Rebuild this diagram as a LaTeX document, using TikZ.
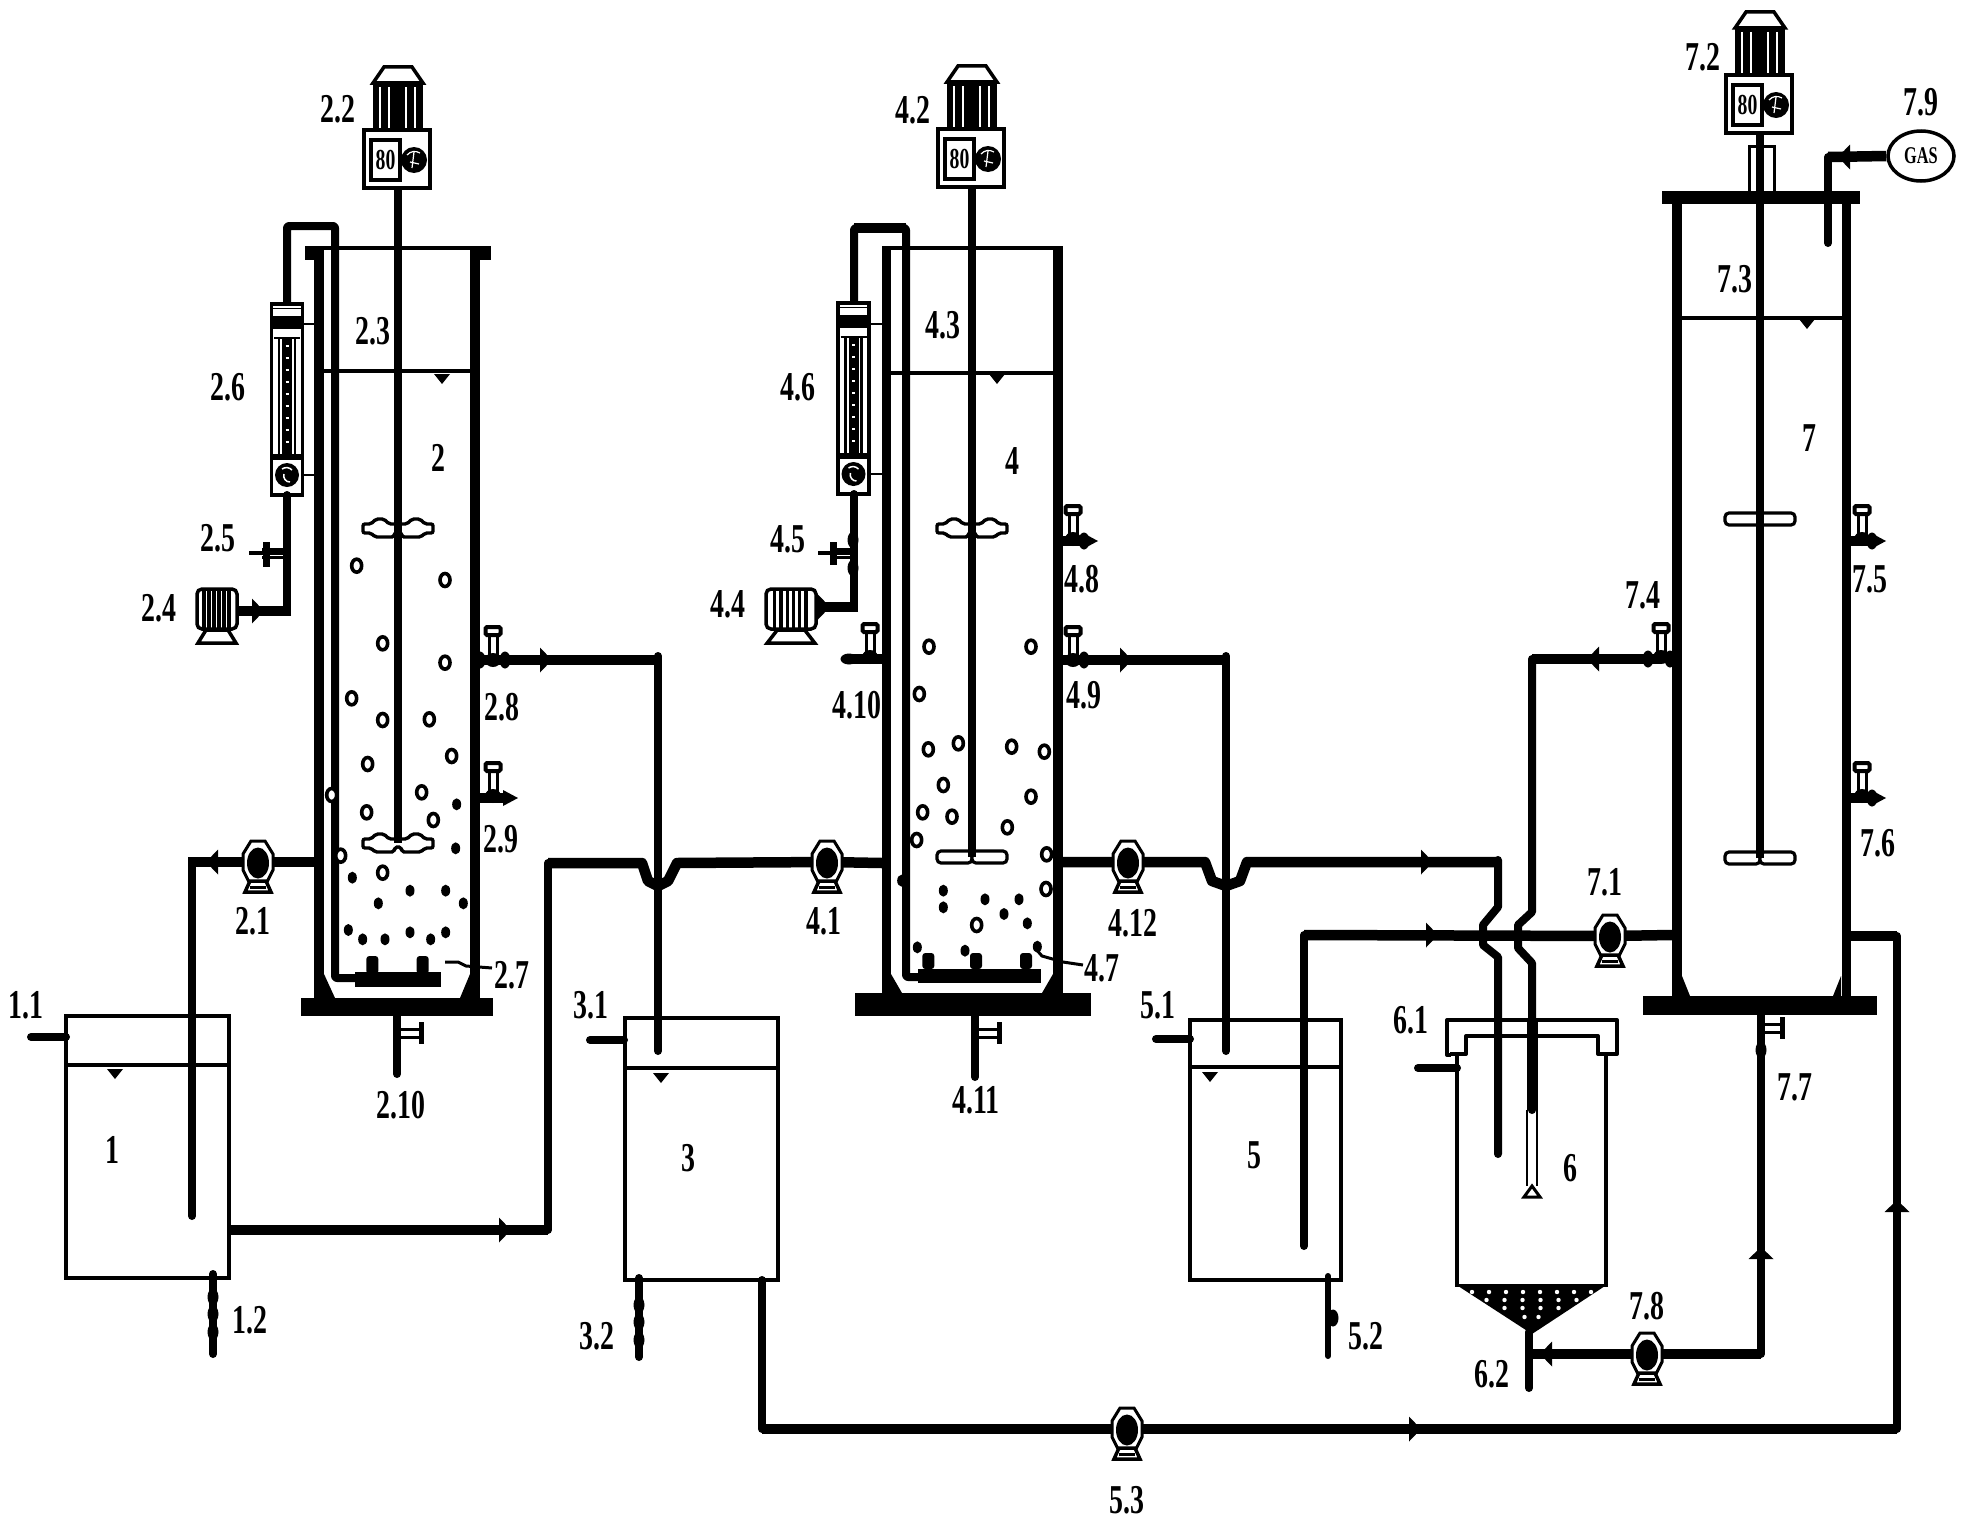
\documentclass[tikz,border=0pt]{standalone}
\usepackage{fontspec}
\setmainfont{Liberation Serif}[FakeStretch=0.68]
\usetikzlibrary{shapes.geometric,calc}
\tikzset{
  pipe/.style={line width=8,line join=round,line cap=round},
  thickpipe/.style={line width=10.5,line join=round},
  thinline/.style={line width=2.5},
  wall/.style={line width=9.5},
  levelline/.style={line width=4.5},
  tankbox/.style={draw,line width=4,minimum width=#1,anchor=north west,inner sep=0,outer sep=0},
  lbl/.style={inner sep=0,font=\fontsize{41}{41}\selectfont\bfseries},
  bub/.style={line width=3.6,draw=black,fill=white},
  pump/.pic={
    \draw[line width=3,fill=white] (-7,-21)--(7,-21)--(15,-8)--(15,8)--(9,20)--(-9,20)--(-15,8)--(-15,-8)--cycle;
    \fill (0,1) ellipse[x radius=11,y radius=15.5];
    \draw[line width=3.5,fill=white] (-8,19)--(-13,30)--(13,30)--(8,19)--cycle;
    \draw[line width=3] (-8,25)--(8,25);
  },
  blower/.pic={
    \draw[line width=3.5,fill=white,rounded corners=5] (-20,-22) rectangle (20,18);
    \foreach \a in {-13,-8,-3,2,7,12} \draw[line width=3.2] (\a,-21)--(\a,17);
    \draw[line width=3.5,fill=white] (-11,19)--(-19,32)--(19,32)--(11,19)--cycle;
  },
  stirmotor/.pic={
    \draw[line width=3.5,fill=white] (-25,-47)--(-14,-63)--(14,-63)--(25,-47)--cycle;
    \fill (-25,-47) rectangle (25,0);
    \foreach \a/\w in {-18/1.5,-9/1.5,8/1.5,17/1.5} \draw[white,line width=\w] (\a,-43)--(\a,-2);
    \draw[line width=4.5,fill=white] (-34,0) rectangle (32,58);
    \draw[line width=4.5] (-27,10) rectangle (2,50);
    \node[font=\fontsize{29}{29}\selectfont\bfseries,inner sep=0] at (-12.5,30) {80};
    \fill (16,30) circle[radius=13];
    \draw[white,line width=1.2] (9,25) to[bend left=40] (22,23) (16,22)--(14,38) (12,32)--(21,34);
  },
  impeller/.pic={
    \draw[line width=3.2,fill=white,rounded corners=4] (-35,-6) rectangle (0,6);
    \draw[line width=3.2,fill=white,rounded corners=4] (0,-6) rectangle (35,6);
  },
  bumpimp/.pic={
    \draw[line width=3.4,fill=white,rounded corners=2] (-35,-4)--(-27,-4)--(-22,-9)--(-14,-9)--(-9,-4)--(9,-4)--(14,-9)--(22,-9)--(27,-4)--(35,-4)--(35,5)--(27,5)--(23,9)--(4,9)--(3,4)--(-3,4)--(-4,9)--(-23,9)--(-27,5)--(-35,5)--cycle;
  },
  flowmeter/.pic={
    \draw[line width=3.5,fill=white] (-15.5,0) rectangle (15.5,191);
    \fill (-14,12) rectangle (14,23);
    \fill (-14,4) rectangle (14,5);
    \fill (-14,23) rectangle (14,25);
    \draw[line width=2] (-13,34)--(13,34);
    \fill (-5,34) rectangle (5,150);
    \foreach \b in {42,54,...,146} \draw[white,line width=1.3] (-1.5,\b)--(1.5,\b);
    \draw[line width=2.5] (-8,34)--(-8,150) (8,34)--(8,150);
    \fill (-14,150) rectangle (14,156);
    \fill (0,171) circle[radius=12];
    \draw[white,line width=1.5] (-5,165) to[bend left=40] (5,166) (-3,170) to[bend right=60] (3,178);
  },
  tvalve/.pic={
    \draw[line width=3] (-4,-26)--(-4,-3) (4,-26)--(4,-3);
    \draw[line width=4,fill=white,rounded corners=1.5] (-7.5,-33) rectangle (7.5,-25);
    \fill (0,0) ellipse[x radius=8,y radius=7];
  },
  blob/.pic={\fill (0,0) ellipse[x radius=5.5,y radius=8.5];},
  hblob/.pic={\fill (0,0) ellipse[x radius=8.5,y radius=5.5];},
  flowmark/.pic={\fill (-5,-12.5)--(7,0)--(-5,12.5)--cycle;},
  tipmark/.pic={\fill (-13,-8)--(2,0)--(-13,8)--cycle;},
  levelmark/.pic={\fill (-8,-1)--(8,-1)--(0,9)--cycle;},
  sidehandle/.pic={
    \draw[line width=3] (0,-4)--(20,-4) (0,4)--(20,4);
    \draw[line width=5] (21,-11)--(21,11);
  },
}
\begin{document}
\begin{tikzpicture}[x=1pt,y=-1pt]
\path[use as bounding box,fill=white] (0,0) rectangle (1965,1520);

% ---- tanks
\node[tankbox=163,minimum height=262] (t1) at (66,1016) {};
\node[tankbox=153,minimum height=262] (t3) at (624.5,1018) {};
\node[tankbox=151,minimum height=260] (t5) at (1190,1020) {};
\draw[levelline] (t1.north west |- 66,1065)--(229,1065);
\draw[levelline] (624.5,1068)--(777.5,1068);
\draw[levelline] (1190,1067)--(1341,1067);
\pic at (115,1070) {levelmark};
\pic at (661,1074) {levelmark};
\pic at (1210,1073) {levelmark};

% ---- named pipe points
\coordinate (pu21) at (258,862);
\coordinate (pu41) at (827,862);
\coordinate (pu412) at (1128,862);
\coordinate (pu71) at (1610,936);
\coordinate (pu78) at (1647,1354);
\coordinate (pu53) at (1127,1429);

% pipes: tank 1 to reactor 2 through pump 2.1
\draw[pipe] (192,1216)--(192,862);
\draw[thickpipe] (188,862)--(pu21)--(314,862);
% tank 1 to reactor 4
\draw[thickpipe] (229,1230)--(548,1230);
\draw[pipe] (548,1230)--(548,863);
\draw[thickpipe] (548,863)--(642,863)--(648,881)--(658,886)--(668,881)--(677,863)--(pu41)--(882,863);
\draw[thickpipe] (1063,862)--(pu412)--(1205,862)--(1212,881)--(1226,886)--(1240,881)--(1247,862)--(1498,862);
% 2.8 to tank 3
\draw[thickpipe] (480,660)--(658,660);
\draw[pipe] (658,656)--(658,1051);
% 4.9 to tank 5
\draw[thickpipe] (1063,660)--(1226,660);
\draw[pipe] (1226,656)--(1226,1051);
% to clarifier with hops
\draw[pipe] (1498,860)--(1498,907)--(1483,925)--(1483,945)--(1498,957)--(1498,1154);
\draw[pipe] (1672,659)--(1532,659)--(1532,912)--(1518,925)--(1518,948)--(1532,963)--(1532,1110);
\draw[thickpipe] (1661,659)--(1532,659);
\draw[line width=11] (1532,1020)--(1532,1110);
\draw[thinline] (1527,1110)--(1527,1186) (1537,1110)--(1537,1186);
\draw[line width=3] (1532,1186)--(1524,1197)--(1540,1197)--cycle;
% tank 5 to reactor 7
\draw[pipe] (1304,1246)--(1304,935);
\draw[thickpipe] (1304,935)--(pu71)--(1672,935);
% 7 to bottom line
\draw[thickpipe] (1851,936)--(1897,936);
\draw[pipe] (1897,936)--(1897,1429);
\draw[thickpipe] (1897,1429)--(pu53)--(762,1429);
\draw[pipe] (762,1429)--(762,1280);
% recycle from clarifier
\draw[pipe] (1529,1332)--(1529,1388);
\draw[thickpipe] (1529,1354)--(pu78)--(1761,1354);
\draw[pipe] (1761,1354)--(1761,1015);
% inlet stubs
\draw[pipe] (31,1037)--(66,1037);
\draw[pipe] (590,1040)--(624,1040);
\draw[pipe] (1156,1039)--(1190,1039);
\draw[pipe] (1418,1068)--(1457,1068);
% bottom drains
\draw[pipe] (213,1274)--(213,1354);
\draw[pipe] (639,1278)--(639,1357);
\draw[line width=6,line cap=round] (1328,1276)--(1328,1356);
\foreach \b in {1297,1314,1332} \pic at (213,\b) {blob};
\foreach \b in {1305,1322,1340} \pic at (639,\b) {blob};
\pic at (1333,1318) {blob};

% ---- reactor 2
\draw[wall] (319,246)--(319,1002);
\draw[wall] (475,246)--(475,1002);
\fill (305,246) rectangle (491,250);
\fill (305,246) rectangle (324,260);
\fill (470,246) rectangle (491,260);
\fill (301,998) rectangle (493,1016);
\fill (324,974)--(335,998)--(324,998)--cycle;
\fill (470,974)--(460,998)--(470,998)--cycle;
\draw[levelline] (323,371)--(471,371);
\pic at (442,375) {levelmark};
\draw[pipe,rounded corners=2] (287,304)--(287,226)--(335,226)--(335,978)--(355,978);
\fill (355,972) rectangle (441,987);
\pic at (398,528) {bumpimp};
\pic at (398,843) {bumpimp};
\draw[line width=8] (398,188)--(398,843);
\pic at (398,130) {stirmotor};
\pic at (287,304) {flowmeter};
\draw[thinline] (302,324)--(314,324) (302,475)--(314,475);
\draw[pipe] (287,495)--(287,611);
\draw[thickpipe] (291,611)--(237,611);
\draw[line width=8] (287,532)--(287,574);
\draw[line width=4] (249,553)--(284,553);
\draw[line width=3] (262,549)--(284,549) (262,557)--(284,557);
\draw[line width=7] (266,542)--(266,567);
\pic at (217,611) {blower};
\pic at (257,611) {flowmark};
\pic at (258,862) {pump};
\pic[rotate=180] at (213,862) {flowmark};
\pic at (504,1230) {flowmark};
\pic at (545,660) {flowmark};
\pic at (505,660) {blob};
\pic at (493,660) {tvalve};
\pic at (480,660) {blob};
\draw[thickpipe] (480,798)--(504,798);
\pic at (516,798) {tipmark};
\pic at (493,796) {tvalve};
\draw[pipe] (397,1016)--(397,1074);
\pic at (400,1033) {sidehandle};
\foreach \a/\b in {170/197,435/240,248/430,435/488,155/595,248/660,388/658,455/768,203/792,95/885,365/877,200/937,400/960,248/1118,122/1067}
  \draw[bub] ({300+\a/3},{500+\b/3}) ellipse[x radius=5,y radius=6.5];
\foreach \a/\b in {470/913,467/1045,157/1133,330/1172,437/1172,235/1210,490/1210,145/1290,188/1318,255/1318,330/1297,392/1318,437/1297}
  \fill ({300+\a/3},{500+\b/3}) ellipse[x radius=4.5,y radius=6];
\foreach \a in {217,368} \fill[rounded corners=3] ({300+\a/3-6},956) rectangle ({300+\a/3+6},974);
\draw[line width=3] (445,962)--(458,962)--(466,966)--(492,968);

% ---- reactor 4
\draw[wall] (886.5,246)--(886.5,996);
\draw[wall] (1058,246)--(1058,996);
\fill (882,246) rectangle (1063,250);
\fill (855,993) rectangle (1091,1016);
\fill (891,974)--(902,993)--(891,993)--cycle;
\fill (1053,974)--(1042,993)--(1053,993)--cycle;
\draw[levelline] (891,373)--(1053,373);
\pic at (997,375) {levelmark};
\draw[pipe,rounded corners=2] (854,303)--(854,228)--(906,228)--(906,977)--(918,977);
\draw[line width=10] (854,228)--(906,228);
\fill (918,969) rectangle (1041,983);
\pic at (972,528) {bumpimp};
\pic at (972,857) {impeller};
\draw[line width=7.5] (972,188)--(972,857);
\pic at (972,129) {stirmotor};
\pic at (853.5,303) {flowmeter};
\draw[thinline] (869,324)--(882,324) (869,474)--(882,474);
\draw[pipe] (854,494)--(854,607);
\draw[thickpipe] (858,607)--(816,607);
\pic at (853,540) {blob};
\pic at (853,568) {blob};
\draw[line width=4] (818,553)--(850,553);
\draw[line width=3] (833,549)--(850,549) (833,557)--(850,557);
\draw[line width=7] (833,542)--(833,565);
\pic[xscale=1.25] at (791,611) {blower};
\pic at (823,607) {flowmark};
\pic at (pu41) {pump};
\pic at (pu412) {pump};
\pic at (1125,660) {flowmark};
\pic at (1084,660) {blob};
\pic at (1073,660) {tvalve};
\draw[thickpipe] (1063,541)--(1086,541);
\pic at (1096,541) {tipmark};
\pic at (1084,541) {blob};
\pic at (1073,539) {tvalve};
\draw[thickpipe] (882,659)--(852,659);
\pic at (849,659) {hblob};
\pic at (870,657) {tvalve};
\draw[pipe] (975,1016)--(975,1077);
\pic at (978,1033) {sidehandle};
\foreach \a/\b in {387/440,693/440,358/582,385/748,475/730,635/740,733/755,430/855,693/890,368/937,456/950,622/982,350/1020,740/1063,738/1167,530/1275}
  \draw[bub] ({800+\a/3},{500+\b/3}) ellipse[x radius=5,y radius=6.5];
\foreach \a/\b in {305/1142,430/1172,430/1222,555/1198,657/1198,612/1242,682/1270,352/1342,495/1352,712/1340}
  \fill ({800+\a/3},{500+\b/3}) ellipse[x radius=4.5,y radius=6];
\foreach \a in {385,528,678} \fill[rounded corners=3] ({800+\a/3-6},953) rectangle ({800+\a/3+6},969);
\draw[line width=3] (1035,948)--(1042,956)--(1063,962)--(1083,965);

% ---- reactor 7
\draw[wall] (1677,204)--(1677,1000);
\draw[wall] (1846.5,204)--(1846.5,1000);
\fill (1662,191) rectangle (1860,204);
\fill (1643,996) rectangle (1877,1015);
\fill (1682,976)--(1690,996)--(1682,996)--cycle;
\fill (1841,976)--(1833,996)--(1841,996)--cycle;
\draw[levelline] (1682,318)--(1842,318);
\pic at (1807,320) {levelmark};
\draw[line width=3,fill=white] (1749,191)--(1749,146)--(1774,146)--(1774,191);
\pic at (1760,519) {impeller};
\pic at (1760,858) {impeller};
\draw[line width=8] (1760,133)--(1760,858);
\pic at (1760,75) {stirmotor};
\node[ellipse,draw,line width=3.5,minimum width=66,minimum height=50,inner sep=0,font=\fontsize{24}{24}\selectfont\bfseries] (gas) at (1921,156) {GAS};
\draw[thickpipe] (gas.west)--(1828,157);
\draw[pipe] (1828,157)--(1828,243);
\pic[rotate=180] at (1845,157) {flowmark};
\pic at (pu71) {pump};
\pic at (pu78) {pump};
\pic at (pu53) {pump};
\pic[rotate=180] at (1594,659) {flowmark};
\pic at (1648,659) {blob};
\pic at (1661,657) {tvalve};
\pic at (1670,659) {blob};
\draw[thickpipe] (1851,541)--(1872,541);
\pic at (1884,541) {tipmark};
\pic at (1872,541) {blob};
\pic at (1862,539) {tvalve};
\draw[thickpipe] (1851,798)--(1872,798);
\pic at (1884,798) {tipmark};
\pic at (1872,798) {blob};
\pic at (1862,796) {tvalve};
\pic at (1426,862) {flowmark};
\pic at (1431,935) {flowmark};
\pic at (1414,1429) {flowmark};
\pic[rotate=90] at (1897,1207) {flowmark};
\pic[rotate=90] at (1761,1254) {flowmark};
\pic[rotate=180] at (1547,1354) {flowmark};
\pic at (1761,1028) {sidehandle};
\pic at (1761,1050) {blob};

% ---- clarifier 6
\draw[line width=4,line join=round] (1451,1055)--(1447,1055)--(1447,1020)--(1617,1020)--(1617,1054)--(1598,1054)--(1598,1036)--(1466,1036)--(1466,1054)--(1450,1054);
\draw[line width=4.5] (1457,1056)--(1457,1287) (1606,1054)--(1606,1287);
\fill (1455,1284)--(1608,1284)--(1532,1334)--cycle;
\foreach \r/\n/\s in {1292/8/17,1300/6/18,1308/4/18,1317/2/14} \foreach \k in {1,...,\n}
  \fill[white] ({1531.5+(\k-(\n+1)/2)*\s},\r) circle[radius=2.2];

% ---- labels
\node[lbl] (n1) at (112,1150) {1};
\node[lbl] (n2) at (438,458) {2};
\node[lbl] (n3) at (688,1158) {3};
\node[lbl] (n4) at (1012,461) {4};
\node[lbl] (n5) at (1254,1155) {5};
\node[lbl] (n6) at (1570,1168) {6};
\node[lbl] (n7) at (1809,438) {7};
\node[lbl] (l11) at (26,1005) {1.1};
\node[lbl] (l12) at (250,1320) {1.2};
\node[lbl] (l21) at (253,921) {2.1};
\node[lbl] (l22) at (338,109) {2.2};
\node[lbl] (l23) at (373,331) {2.3};
\node[lbl] (l24) at (159,608) {2.4};
\node[lbl] (l25) at (218,538) {2.5};
\node[lbl] (l26) at (228,387) {2.6};
\node[lbl] (l27) at (512,975) {2.7};
\node[lbl] (l28) at (502,707) {2.8};
\node[lbl] (l29) at (501,839) {2.9};
\node[lbl] (l210) at (401,1105) {2.10};
\node[lbl] (l31) at (591,1005) {3.1};
\node[lbl] (l32) at (597,1336) {3.2};
\node[lbl] (l41) at (824,921) {4.1};
\node[lbl] (l42) at (913,110) {4.2};
\node[lbl] (l43) at (943,325) {4.3};
\node[lbl] (l44) at (728,604) {4.4};
\node[lbl] (l45) at (788,539) {4.5};
\node[lbl] (l46) at (798,387) {4.6};
\node[lbl] (l47) at (1102,968) {4.7};
\node[lbl] (l48) at (1082,579) {4.8};
\node[lbl] (l49) at (1084,695) {4.9};
\node[lbl] (l410) at (857,705) {4.10};
\node[lbl] (l411) at (976,1100) {4.11};
\node[lbl] (l412) at (1133,923) {4.12};
\node[lbl] (l51) at (1158,1005) {5.1};
\node[lbl] (l52) at (1366,1336) {5.2};
\node[lbl] (l53) at (1127,1500) {5.3};
\node[lbl] (l61) at (1411,1020) {6.1};
\node[lbl] (l62) at (1492,1374) {6.2};
\node[lbl] (l71) at (1605,882) {7.1};
\node[lbl] (l72) at (1703,57) {7.2};
\node[lbl] (l73) at (1735,279) {7.3};
\node[lbl] (l74) at (1643,595) {7.4};
\node[lbl] (l75) at (1870,579) {7.5};
\node[lbl] (l76) at (1878,843) {7.6};
\node[lbl] (l77) at (1795,1087) {7.7};
\node[lbl] (l78) at (1647,1306) {7.8};
\node[lbl] (l79) at (1921,102) {7.9};
\end{tikzpicture}
\end{document}
